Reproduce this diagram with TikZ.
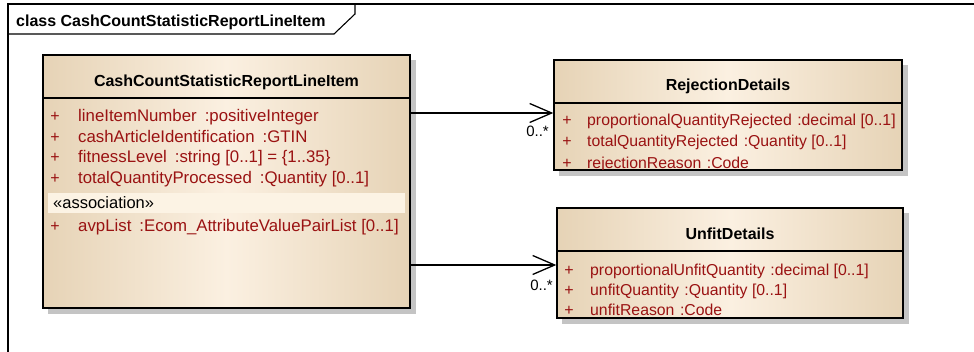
\documentclass[tikz,border=0pt]{standalone}
\usepackage{fontspec}
\setmainfont{Liberation Sans}
\usetikzlibrary{arrows.meta}
\definecolor{tanE}{HTML}{E6D3B6}
\definecolor{tanC}{HTML}{FBF0E1}
\definecolor{attrc}{HTML}{9A1212}
\definecolor{shadowc}{HTML}{C4C4C4}
\definecolor{bandc}{HTML}{FCF3E4}
\newcommand{\gapA}{\hspace{8pt}}
\newcommand{\gapB}{\hspace{5.5pt}}
\begin{document}
\begin{tikzpicture}[x=1pt,y=-1pt,
  classbox/.style={draw=black,line width=1.4pt,rectangle,inner sep=0pt,left color=tanE,right color=tanE,middle color=tanC},
  titletxt/.style={font=\fontsize{16}{19}\selectfont\bfseries,inner sep=0pt,anchor=base},
  attrtxt/.style={font=\fontsize{15.8}{19}\selectfont,text=attrc,inner sep=0pt,anchor=base west},
  attrwide/.style={font=\fontsize{16.8}{19}\selectfont,text=attrc,inner sep=0pt,anchor=base west},
  plustxt/.style={font=\fontsize{16}{19}\selectfont,text=attrc,inner sep=0pt,anchor=base},
  multtxt/.style={font=\fontsize{15}{18}\selectfont,inner sep=0pt,anchor=base east},
  assoc/.style={line width=1.3pt,-{Straight Barb[length=22pt,width=19pt,line width=1.3pt]}},
  sep/.style={line width=1.3pt}]
\useasboundingbox (0,0) rectangle (974,352);
\clip (0,0) rectangle (974,352);
% frame
\draw[line width=1.3pt] (8,360) -- (8,4) -- (990,4);
\draw[line width=1.1pt] (8,34) -- (334,34) -- (355,14) -- (355,4);
\node[font=\fontsize{16}{19}\selectfont\bfseries,inner sep=0pt,anchor=base west] (frametitle) at (16,27) {class CashCountStatisticReportLineItem};
% shadows
\fill[shadowc] (48,60) rectangle (416,314);
\fill[shadowc] (559,65) rectangle (908,176);
\fill[shadowc] (562,213) rectangle (909,324);
% main class
\node[classbox,minimum width=367pt,minimum height=253pt] (main) at (226.5,181.5) {};
\draw[sep] (43,98) -- (410,98);
\node[titletxt] (maint) at (226.5,87) {CashCountStatisticReportLineItem};
\fill[bandc] (48,193) rectangle (405,213);
\foreach \y/\t/\n in {122/{lineItemNumber\gapA:positiveInteger}/a1,142.5/{cashArticleIdentification\gapA:GTIN}/a2,163/{fitnessLevel\gapA:string [0..1] = \{1..35\}}/a3,184/{totalQuantityProcessed\gapA:Quantity [0..1]}/a4,232/{avpList\gapA:Ecom\_AttributeValuePairList [0..1]}/a5}{
  \node[plustxt] (p\n) at (55,\y) {+};
  \node[attrwide] (t\n) at (78,\y) {\t};
}
\node[font=\fontsize{16.5}{19}\selectfont,inner sep=0pt,anchor=base west] (stereo) at (53,209) {«association»};
\draw[line width=1.4pt] (main.north west) rectangle (main.south east);
% RejectionDetails
\node[classbox,minimum width=348pt,minimum height=110pt] (rej) at (728,115) {};
\draw[sep] (554,103) -- (902,103);
\node[titletxt] (rejt) at (728,90.7) {RejectionDetails};
\foreach \y/\t/\n in {126/{proportionalQuantityRejected\gapB:decimal [0..1]}/b1,147/{totalQuantityRejected\gapB:Quantity [0..1]}/b2,168.3/{rejectionReason\gapB:Code}/b3}{
  \node[plustxt] (p\n) at (567,\y) {+};
  \node[attrtxt] (t\n) at (587,\y) {\t};
}
\fill[white] (554,171) rectangle (902,176);
\fill[shadowc] (559,171) rectangle (908,176);
\draw[line width=1.4pt] (rej.north west) rectangle (rej.south east);
% UnfitDetails
\node[classbox,minimum width=346pt,minimum height=110pt] (unfit) at (730,263) {};
\draw[sep] (557,251) -- (903,251);
\node[titletxt] (unfitt) at (730,239.3) {UnfitDetails};
\foreach \y/\t/\n in {275.7/{proportionalUnfitQuantity\gapB:decimal [0..1]}/c1,296/{unfitQuantity\gapB:Quantity [0..1]}/c2,316/{unfitReason\gapB:Code}/c3}{
  \node[plustxt] (p\n) at (569,\y) {+};
  \node[attrtxt] (t\n) at (590,\y) {\t};
}
\fill[white] (557,319) rectangle (903,324);
\fill[shadowc] (562,319) rectangle (909,324);
\draw[line width=1.4pt] (unfit.north west) rectangle (unfit.south east);
% connectors
\draw[assoc] ([yshift=68.5pt]main.east) -- ([yshift=2pt]rej.west);
\draw[assoc] ([yshift=-83.5pt]main.east) -- ([yshift=-2pt]unfit.west);
\node[multtxt] (m1) at (549,136.7) {0..*};
\node[multtxt] (m2) at (553,291) {0..*};
\end{tikzpicture}
\end{document}
